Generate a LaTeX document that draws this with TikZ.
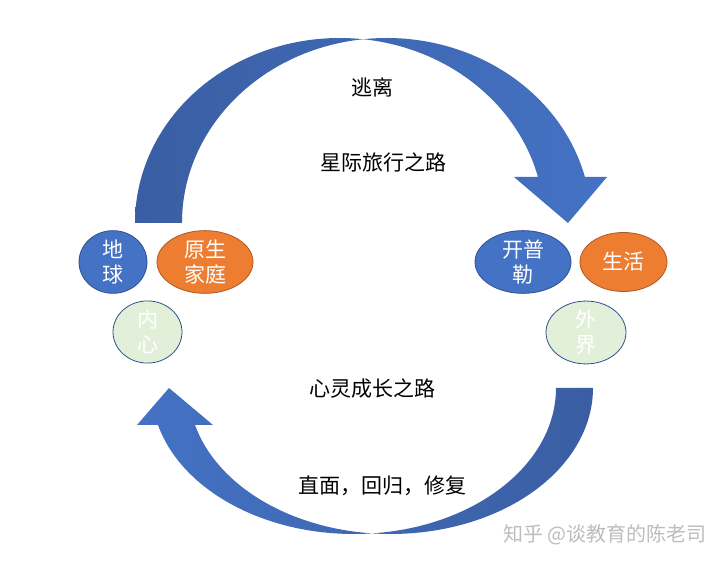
\documentclass[tikz,border=0pt]{standalone}
\usepackage{fontspec}
\setmainfont{Noto Sans CJK SC}
\usetikzlibrary{shapes.geometric}
\definecolor{pblue}{HTML}{4472C4}
\definecolor{adark}{HTML}{3A5EA3}
\definecolor{bline}{HTML}{2F528F}
\definecolor{porange}{HTML}{ED7D31}
\definecolor{oline}{HTML}{AE5A21}
\definecolor{pgreen}{HTML}{E2F0D9}
\definecolor{wmark}{HTML}{BDBDBD}
\tikzset{
  bubble/.style={ellipse, inner sep=0pt, line width=0.8pt, align=center,
    text=white, font=\fontsize{21}{25}\selectfont},
  bluebub/.style={bubble, fill=pblue, draw=bline},
  orangebub/.style={bubble, fill=porange, draw=oline},
  greenbub/.style={bubble, fill=pgreen, draw=bline},
  label/.style={font=\fontsize{21}{25}\selectfont, text=black, inner sep=0pt},
  wm/.style={font=\fontsize{20}{24}\selectfont, text=wmark, inner sep=0pt, anchor=east}
}
\begin{document}
\begin{tikzpicture}[x=1pt,y=1pt]
\useasboundingbox (0,0) rectangle (728,567);
\fill[white] (0,0) rectangle (728,567);

% top curved arrow
\shade[left color=adark, right color=pblue]
 (182,344) -- (135,344)
 arc[start angle=180, end angle=83.41, x radius=204.7, y radius=185]
 arc[start angle=96.59, end angle=14.4, x radius=204.7, y radius=185]
 -- (607,390) -- (568,344) -- (514,390)
 -- ({339.7+204.7*cos(14.4)},{344+185*sin(14.4)})
 arc[start angle=14.4, end angle=83.41, x radius=204.7, y radius=185]
 arc[start angle=96.59, end angle=180, x radius=204.7, y radius=185]
 -- cycle;

% bottom curved arrow
\shade[left color=pblue, right color=adark]
 (556,179) -- (593,179)
 arc[start angle=0, end angle=-95.25, x radius=202.3, y radius=146]
 arc[start angle=-84.75, end angle=-165.32, x radius=202.3, y radius=146]
 -- (137,142) -- (169,179) -- (213,142)
 -- ({390.7+202.3*cos(-165.32)},{179+146*sin(-165.32)})
 arc[start angle=-165.32, end angle=-95.25, x radius=202.3, y radius=146]
 arc[start angle=-84.75, end angle=0, x radius=202.3, y radius=146]
 -- cycle;

% bubbles
\node[bluebub, minimum width=68pt, minimum height=59pt] (earth) at (113,305) {地\\球};
\node[orangebub, minimum width=96pt, minimum height=59pt] (family) at (205,305) {原生\\家庭};
\node[greenbub, minimum width=69pt, minimum height=60pt] (inner) at (147.5,235) {内\\心};
\node[bluebub, minimum width=96pt, minimum height=59pt] (kepler) at (523,305) {开普\\勒};
\node[orangebub, minimum width=87pt, minimum height=59pt] (life) at (623.5,305) {生活};
\node[greenbub, minimum width=80pt, minimum height=61pt] (outer) at (586,234.5) {外\\界};

% labels
\node[label] (escape) at (372,480) {逃离};
\node[label] (star) at (383,404) {星际旅行之路};
\node[label] (soul) at (372,178) {心灵成长之路};
\node[label] (face) at (382,81) {直面，回归，修复};
\node[wm] (wmk) at (707,32) {知乎 @谈教育的陈老司};
\end{tikzpicture}
\end{document}
